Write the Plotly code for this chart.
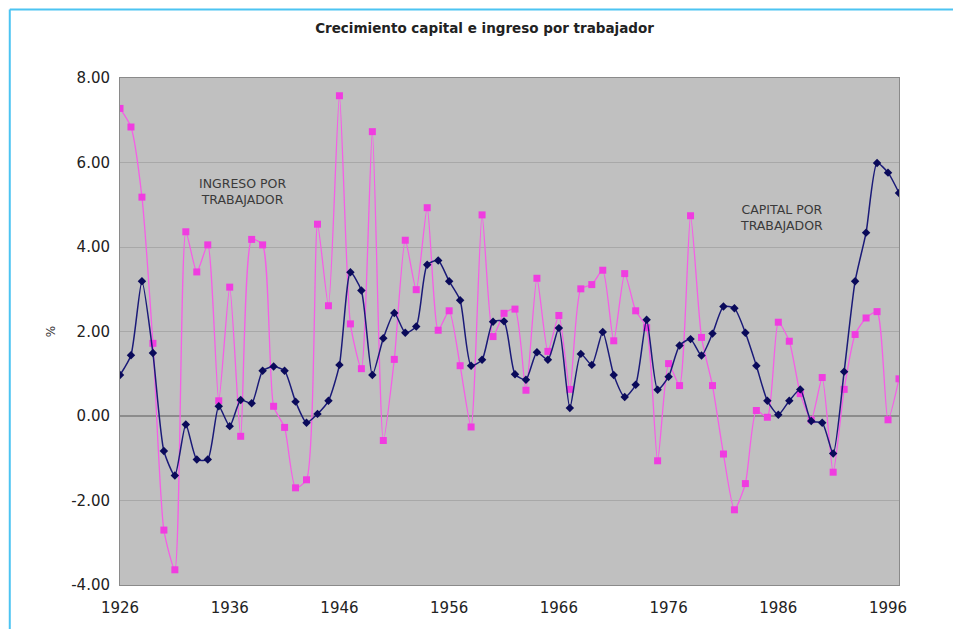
import plotly.graph_objects as go

years = list(range(1926, 1998))

ingreso = [7.28, 6.84, 5.18, 1.72, -2.70, -3.64, 4.36, 3.41, 4.05, 0.36,
           3.05, -0.48, 4.18, 4.05, 0.23, -0.27, -1.70, -1.51, 4.54, 2.61,
           7.58, 2.18, 1.12, 6.73, -0.58, 1.34, 4.16, 2.99, 4.93, 2.03,
           2.49, 1.19, -0.26, 4.76, 1.88, 2.43, 2.53, 0.61, 3.26, 1.53,
           2.38, 0.63, 3.01, 3.11, 3.45, 1.78, 3.37, 2.49, 2.09, -1.06,
           1.24, 0.72, 4.74, 1.86, 0.72, -0.90, -2.22, -1.60, 0.13, -0.03,
           2.22, 1.77, 0.53, -0.09, 0.91, -1.33, 0.63, 1.93, 2.32, 2.47,
           -0.09, 0.88]

capital = [0.97, 1.44, 3.19, 1.49, -0.83, -1.41, -0.20, -1.03, -1.03, 0.23,
           -0.24, 0.38, 0.30, 1.07, 1.17, 1.07, 0.34, -0.16, 0.05, 0.36,
           1.21, 3.40, 2.97, 0.97, 1.84, 2.44, 1.97, 2.12, 3.58, 3.68,
           3.19, 2.74, 1.19, 1.33, 2.23, 2.24, 0.99, 0.86, 1.51, 1.33,
           2.08, 0.19, 1.47, 1.21, 1.99, 0.97, 0.45, 0.74, 2.28, 0.62,
           0.93, 1.67, 1.82, 1.43, 1.95, 2.59, 2.55, 1.97, 1.19, 0.36,
           0.03, 0.36, 0.63, -0.12, -0.16, -0.89, 1.05, 3.19, 4.34, 5.99,
           5.76, 5.28]

x_ticks = [1926, 1936, 1946, 1956, 1966, 1976, 1986, 1996]
y_ticks = [-4, -2, 0, 2, 4, 6, 8]
y_tick_labels = ["-4.00", "-2.00", "0.00", "2.00", "4.00", "6.00", "8.00"]

title_text = "Crecimiento capital e ingreso por trabajador"
label_ingreso = "INGRESO POR<br>TRABAJADOR"
label_capital = "CAPITAL POR<br>TRABAJADOR"

FONT = "DejaVu Sans, Liberation Sans, Arial"

fig = go.Figure()

fig.add_trace(go.Scatter(
    x=years, y=ingreso, mode="lines+markers", name="Ingreso",
    line=dict(color="#f55ee6", width=1.3, shape="spline", smoothing=0.6),
    marker=dict(symbol="square", size=7, color="#f03ce0"),
))
fig.add_trace(go.Scatter(
    x=years, y=capital, mode="lines+markers", name="Capital",
    line=dict(color="#1a1a78", width=1.5, shape="spline", smoothing=0.6),
    marker=dict(symbol="diamond", size=6.5, color="#0a0a5a"),
))

fig.add_annotation(x=1937.2, y=5.32, text=label_ingreso, showarrow=False,
                   font=dict(family=FONT, size=12.5, color="#3a3a3a"))
fig.add_annotation(x=1986.3, y=4.70, text=label_capital, showarrow=False,
                   font=dict(family=FONT, size=12.5, color="#3a3a3a"))

# light blue frame (top and left edge)
fig.add_shape(type="line", xref="paper", yref="paper",
              x0=-0.1415, x1=1.1, y0=1.135, y1=1.135,
              line=dict(color="#4cc4f2", width=2))
fig.add_shape(type="line", xref="paper", yref="paper",
              x0=-0.1415, x1=-0.1415, y0=1.135, y1=-0.1,
              line=dict(color="#4cc4f2", width=2))

fig.update_layout(
    width=953, height=621,
    margin=dict(l=112, r=62, t=70, b=37),
    paper_bgcolor="white",
    plot_bgcolor="#c0c0c0",
    showlegend=False,
    font=dict(family=FONT, color="#222222"),
    title=dict(text="<b>" + title_text + "</b>", x=0.5, xanchor="center",
               y=1 - 20 / 621, yanchor="middle",
               font=dict(family=FONT, size=13.5, color="#222222")),
)

fig.update_xaxes(
    range=[1926, 1997], tickvals=x_ticks, showgrid=False, zeroline=False,
    showline=True, linecolor="#8a8a8a", mirror=True, linewidth=1,
    tickfont=dict(family=FONT, size=15, color="#222222"), ticks="",
    ticklabelstandoff=9,
)
fig.update_yaxes(
    range=[-4, 8], tickvals=y_ticks, ticktext=y_tick_labels,
    showgrid=True, gridcolor="#a8a8a8", gridwidth=1,
    zeroline=True, zerolinecolor="#8c8c8c", zerolinewidth=1.5,
    showline=True, linecolor="#8a8a8a", mirror=True, linewidth=1,
    tickfont=dict(family=FONT, size=15, color="#222222"), ticks="",
    ticklabelstandoff=6,
    title=dict(text="%", font=dict(family=FONT, size=12, color="#333333"),
               standoff=12),
)

fig.write_html("out.html")
